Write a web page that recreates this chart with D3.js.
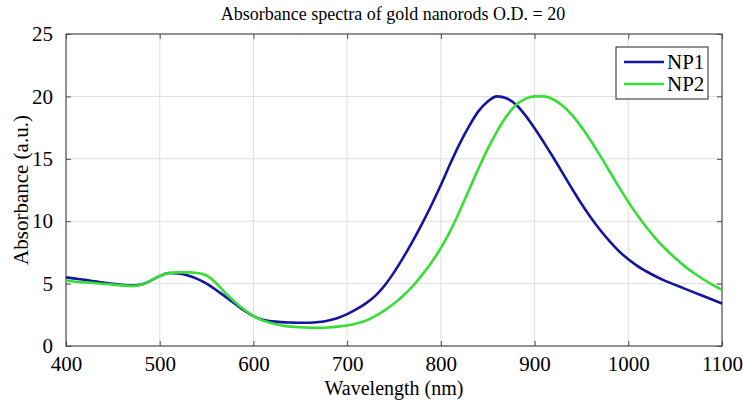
<!DOCTYPE html>
<html>
<head>
<meta charset="utf-8">
<script src="https://cdn.jsdelivr.net/npm/d3@7"></script>
<style>
  body { margin: 0; background: #fff; }
  svg { display: block; font-family: "Liberation Serif", "Times New Roman", serif; }
</style>
</head>
<body>
<svg></svg>
<script>
// wavelength (nm), every 10 nm
var wavelengths = d3.range(400, 1101, 10);

var np1 = [5.50, 5.40, 5.30, 5.18, 5.08, 4.98, 4.90, 4.85, 4.92, 5.22,
           5.60, 5.85, 5.82, 5.65, 5.38, 5.00, 4.50, 3.95, 3.40, 2.85,
           2.40, 2.10, 1.97, 1.91, 1.88, 1.86, 1.86, 1.92, 2.05, 2.25,
           2.55, 2.95, 3.42, 4.02, 4.85, 5.90, 7.10, 8.40, 9.80, 11.30,
           12.90, 14.60, 16.20, 17.60, 18.80, 19.60, 20.00, 19.85, 19.35, 18.50,
           17.45, 16.30, 15.10, 13.85, 12.60, 11.40, 10.30, 9.30, 8.40, 7.60,
           6.95, 6.40, 5.95, 5.55, 5.20, 4.90, 4.60, 4.30, 4.00, 3.70, 3.40];

var np2 = [5.25, 5.15, 5.10, 5.05, 4.98, 4.92, 4.86, 4.80, 4.90, 5.22,
           5.60, 5.85, 5.90, 5.90, 5.85, 5.65, 5.05, 4.25, 3.55, 2.92,
           2.40, 2.05, 1.82, 1.65, 1.55, 1.50, 1.47, 1.45, 1.48, 1.55,
           1.65, 1.80, 2.03, 2.40, 2.85, 3.40, 4.05, 4.80, 5.70, 6.70,
           7.85, 9.20, 10.80, 12.50, 14.20, 15.80, 17.20, 18.40, 19.30, 19.80,
           20.00, 20.00, 19.75, 19.25, 18.50, 17.55, 16.45, 15.25, 14.00, 12.75,
           11.55, 10.45, 9.45, 8.55, 7.75, 7.05, 6.40, 5.85, 5.35, 4.90, 4.50];

var seriesNames = ["NP1", "NP2"];
var seriesColors = ["#14149e", "#36de36"];
var xTicks = [400, 500, 600, 700, 800, 900, 1000, 1100];
var yTicks = [0, 5, 10, 15, 20, 25];

var svgWidth = 743, svgHeight = 404;
var plotLeft = 66, plotRight = 722, plotTop = 34, plotBottom = 346;

var svg = d3.select("svg")
    .attr("width", svgWidth)
    .attr("height", svgHeight);

var x = d3.scaleLinear().domain([400, 1100]).range([plotLeft, plotRight]);
var y = d3.scaleLinear().domain([0, 25]).range([plotBottom, plotTop]);

// grid
svg.append("g")
    .selectAll("line")
    .data(xTicks.slice(1, -1))
    .enter().append("line")
    .attr("x1", d => x(d)).attr("x2", d => x(d))
    .attr("y1", plotTop).attr("y2", plotBottom)
    .attr("stroke", "#dedede").attr("stroke-width", 1);

svg.append("g")
    .selectAll("line")
    .data(yTicks.slice(1, -1))
    .enter().append("line")
    .attr("x1", plotLeft).attr("x2", plotRight)
    .attr("y1", d => y(d)).attr("y2", d => y(d))
    .attr("stroke", "#dedede").attr("stroke-width", 1);

// axes with inward ticks
var axisColor = "#4a4a4a";
var tickSize = 5;
var fmt = d3.format("d");

var xAxis = svg.append("g")
    .attr("transform", "translate(0," + plotBottom + ")")
    .call(d3.axisBottom(x).tickValues(xTicks).tickSize(-tickSize).tickPadding(10).tickFormat(fmt));
var xTopAxis = svg.append("g")
    .attr("transform", "translate(0," + plotTop + ")")
    .call(d3.axisTop(x).tickValues(xTicks).tickSize(-tickSize).tickFormat(""));
var yAxis = svg.append("g")
    .attr("transform", "translate(" + plotLeft + ",0)")
    .call(d3.axisLeft(y).tickValues(yTicks).tickSize(-tickSize).tickPadding(13).tickFormat(fmt));
var yRightAxis = svg.append("g")
    .attr("transform", "translate(" + plotRight + ",0)")
    .call(d3.axisRight(y).tickValues(yTicks).tickSize(-tickSize).tickFormat(""));

[xAxis, xTopAxis, yAxis, yRightAxis].forEach(function (g) {
    g.select(".domain").remove();
    g.selectAll("line").attr("stroke", axisColor);
    g.selectAll("text")
        .attr("fill", "#000")
        .style("font-family", "'Liberation Serif', 'Times New Roman', serif")
        .style("font-size", "21px");
});

svg.append("rect")
    .attr("x", plotLeft).attr("y", plotTop)
    .attr("width", plotRight - plotLeft).attr("height", plotBottom - plotTop)
    .attr("fill", "none")
    .attr("stroke", axisColor)
    .attr("stroke-width", 1.2);

// lines
var line = d3.line()
    .x((d, i) => x(wavelengths[i]))
    .y(d => y(d))
    .curve(d3.curveMonotoneX);

svg.append("path")
    .datum(np1)
    .attr("d", line)
    .attr("fill", "none")
    .attr("stroke", seriesColors[0])
    .attr("stroke-width", 2.6);

svg.append("path")
    .datum(np2)
    .attr("d", line)
    .attr("fill", "none")
    .attr("stroke", seriesColors[1])
    .attr("stroke-width", 2.6);

// title and labels
svg.append("text")
    .attr("x", 393).attr("y", 20)
    .attr("text-anchor", "middle")
    .style("font-size", "18px")
    .text("Absorbance spectra of gold nanorods O.D. = 20");

svg.append("text")
    .attr("x", (plotLeft + plotRight) / 2).attr("y", 395)
    .attr("text-anchor", "middle")
    .style("font-size", "20px")
    .text("Wavelength (nm)");

svg.append("text")
    .attr("transform", "translate(28," + ((plotTop + plotBottom) / 2) + ") rotate(-90)")
    .attr("text-anchor", "middle")
    .style("font-size", "21px")
    .text("Absorbance (a.u.)");

// legend
var legend = svg.append("g");
legend.append("rect")
    .attr("x", 616).attr("y", 47)
    .attr("width", 92).attr("height", 52)
    .attr("fill", "#fff")
    .attr("stroke", "#222")
    .attr("stroke-width", 1);

var items = legend.selectAll("g")
    .data(seriesNames)
    .enter().append("g")
    .attr("transform", (d, i) => "translate(0," + (62 + i * 22) + ")");

items.append("line")
    .attr("x1", 624).attr("x2", 664)
    .attr("stroke", (d, i) => seriesColors[i])
    .attr("stroke-width", 2.6);

items.append("text")
    .attr("x", 667).attr("y", 7)
    .style("font-size", "21px")
    .text(d => d);
</script>
</body>
</html>
